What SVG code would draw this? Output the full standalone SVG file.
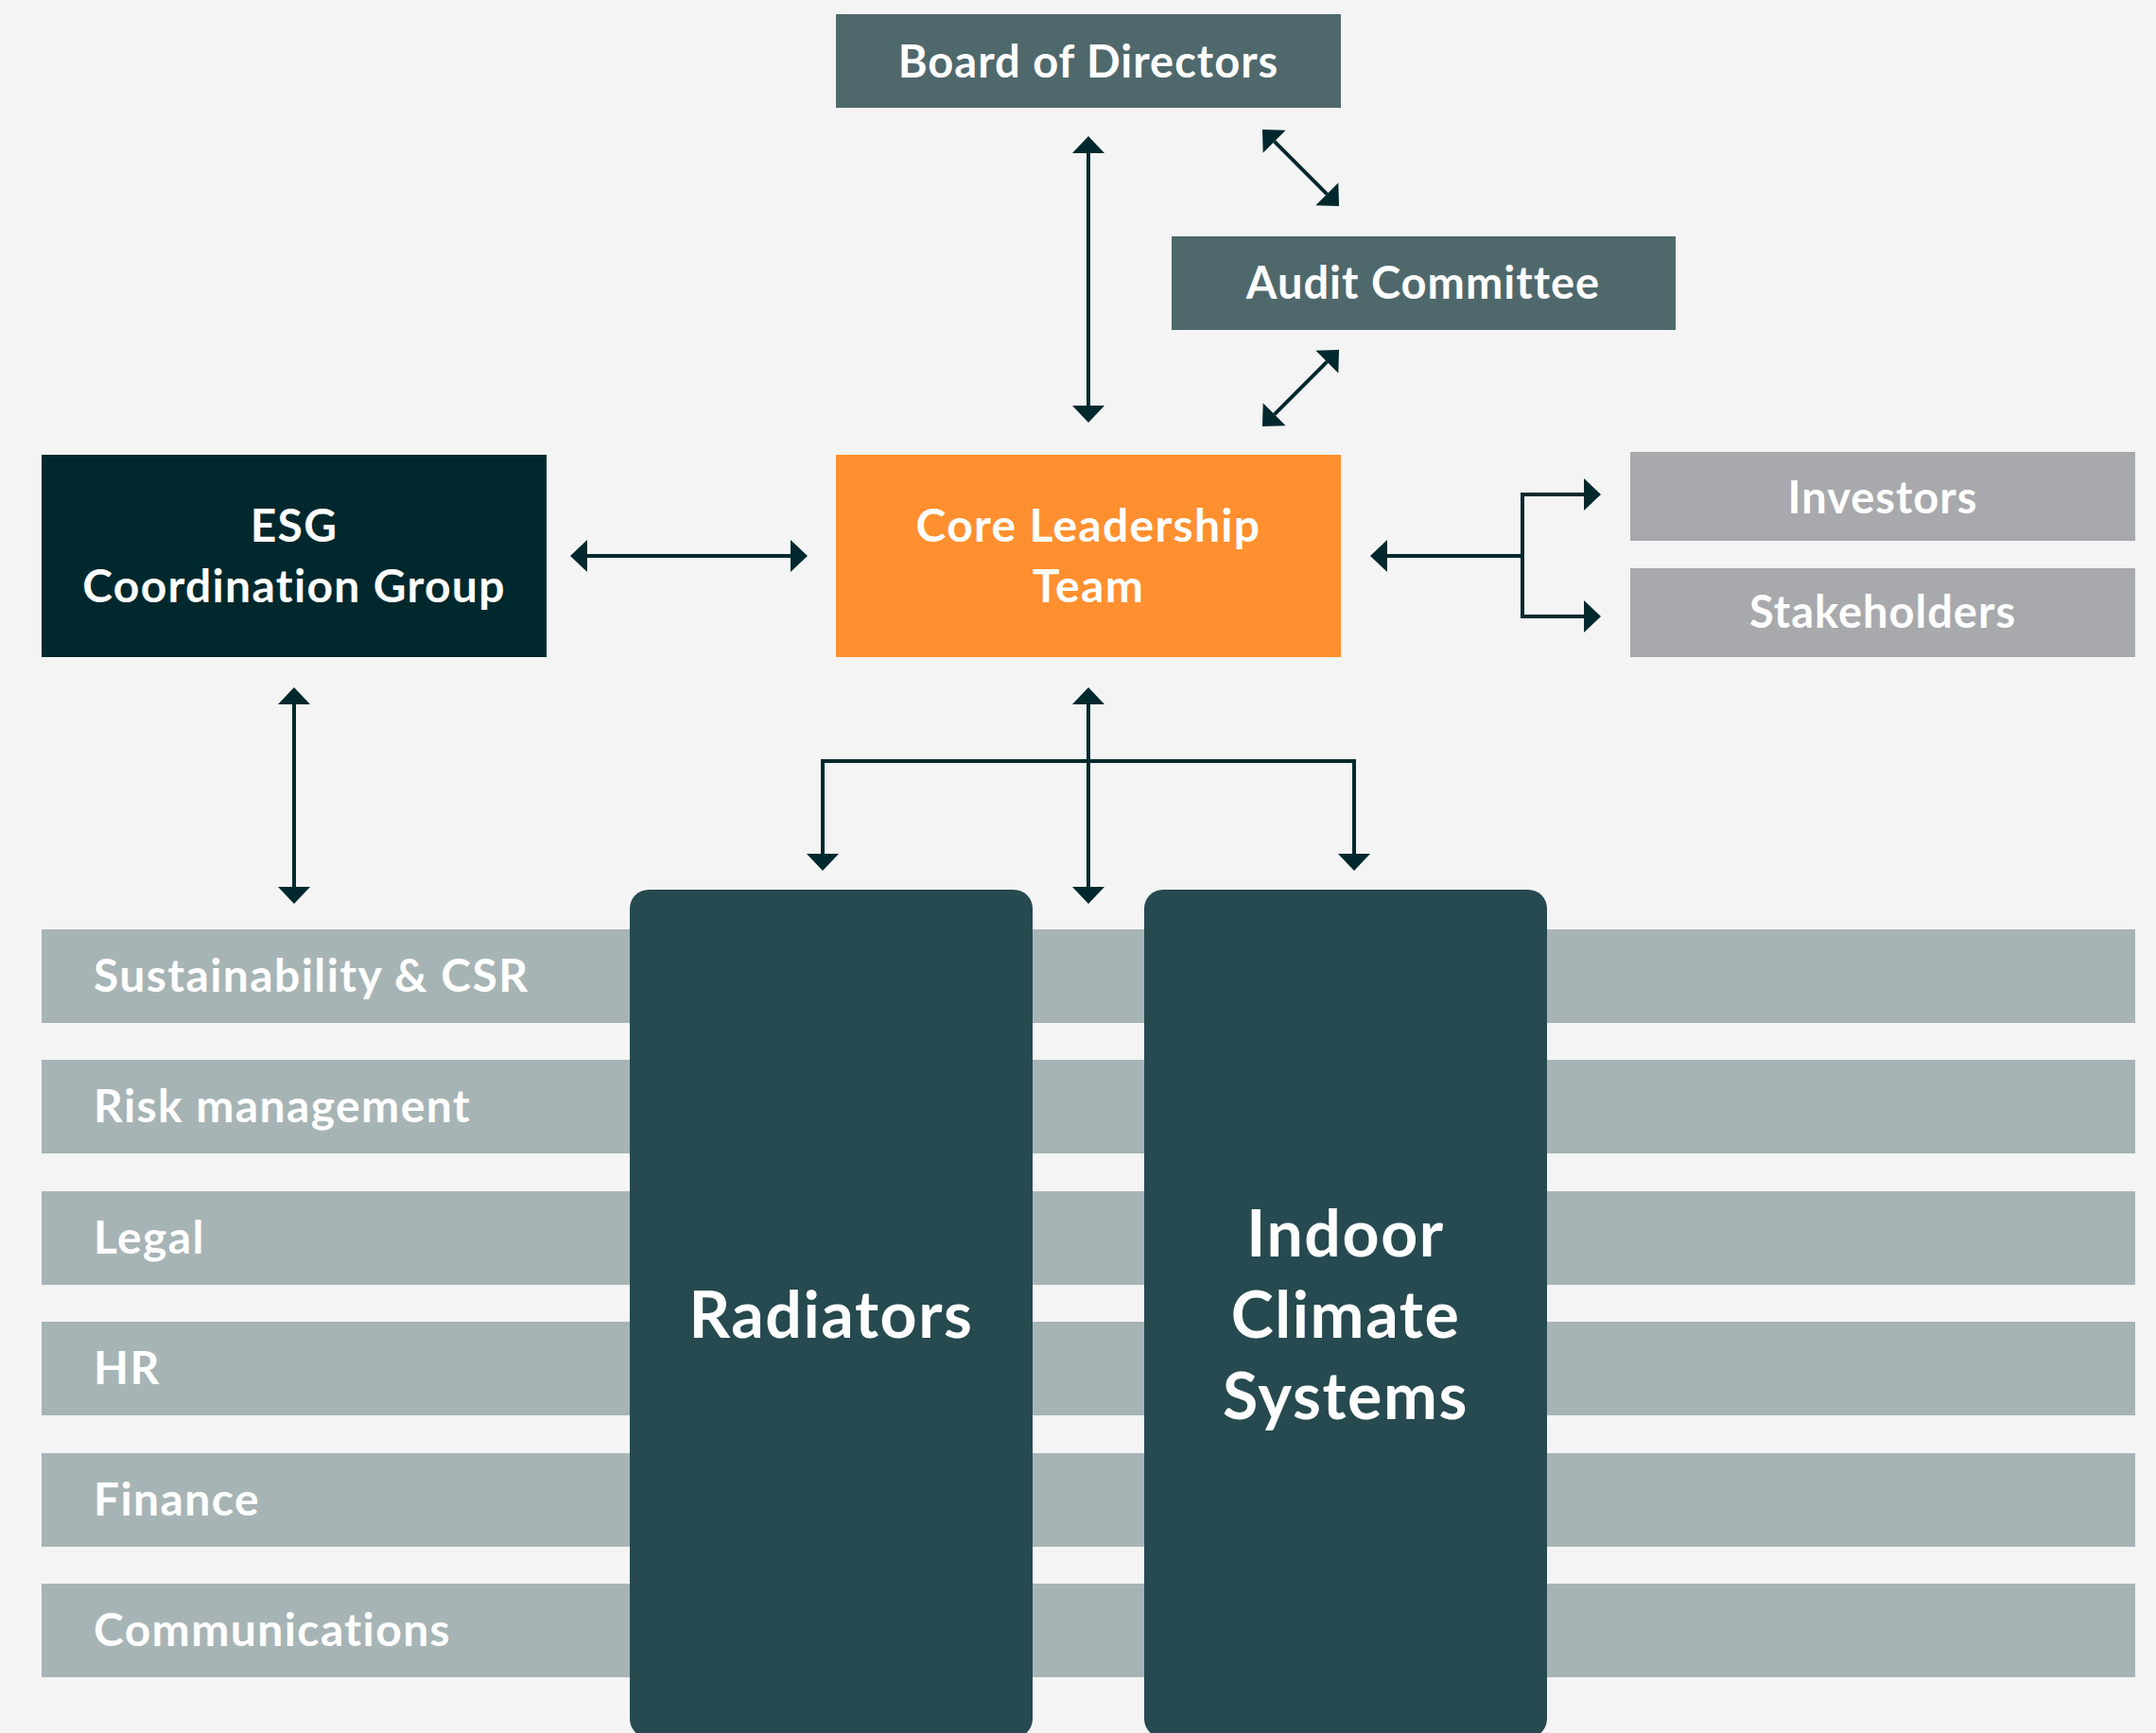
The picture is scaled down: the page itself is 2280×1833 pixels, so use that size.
<svg xmlns="http://www.w3.org/2000/svg" width="2280" height="1833" viewBox="0 0 2280 1833">
  <style>
    .lbl { font-family: Lato, "Noto Sans", "DejaVu Sans", sans-serif; font-weight: 700; fill: #ffffff; }
    .box { font-size: 47px; letter-spacing: 1px; }
    .box2 { font-size: 48px; letter-spacing: 1.3px; }
    .dept { font-size: 48px; letter-spacing: 1.4px; }
    .big { font-size: 68px; letter-spacing: 1.6px; }
    .conn { fill: none; stroke: #01292d; stroke-width: 4; }
    .bar { fill: #a7b4b5; }
    .unit { fill: #264a4f; }
  </style>
  <defs>
    <marker id="head" viewBox="0 0 18 34" refX="0" refY="17" markerWidth="18" markerHeight="34" markerUnits="userSpaceOnUse" orient="auto-start-reverse">
      <path d="M0,0 L18,17 L0,34 Z" fill="#01292d"/>
    </marker>
  </defs>

  <rect x="0" y="0" width="2280" height="1833" fill="#f4f4f4"/>

  <!-- function bars running behind the business units -->
  <g id="departments">
    <g id="dept-sustainability">
      <rect class="bar" x="44" y="983" width="2214" height="99"/>
      <text class="lbl dept" x="99" y="1049">Sustainability &amp; CSR</text>
    </g>
    <g id="dept-risk">
      <rect class="bar" x="44" y="1121" width="2214" height="99"/>
      <text class="lbl dept" x="99" y="1187">Risk management</text>
    </g>
    <g id="dept-legal">
      <rect class="bar" x="44" y="1260" width="2214" height="99"/>
      <text class="lbl dept" x="99" y="1326">Legal</text>
    </g>
    <g id="dept-hr">
      <rect class="bar" x="44" y="1398" width="2214" height="99"/>
      <text class="lbl dept" x="99" y="1464">HR</text>
    </g>
    <g id="dept-finance">
      <rect class="bar" x="44" y="1537" width="2214" height="99"/>
      <text class="lbl dept" x="99" y="1603">Finance</text>
    </g>
    <g id="dept-communications">
      <rect class="bar" x="44" y="1675" width="2214" height="99"/>
      <text class="lbl dept" x="99" y="1741">Communications</text>
    </g>
  </g>

  <g id="board">
    <rect x="884" y="15" width="534" height="99" fill="#4f686c"/>
    <text class="lbl box" x="1151" y="82" text-anchor="middle">Board of Directors</text>
  </g>

  <g id="audit">
    <rect x="1239" y="250" width="533" height="99" fill="#4f686c"/>
    <text class="lbl box" x="1505" y="316" text-anchor="middle">Audit Committee</text>
  </g>

  <g id="esg">
    <rect x="44" y="481" width="534" height="214" fill="#01282d"/>
    <text class="lbl box2" x="311" y="573" text-anchor="middle">ESG</text>
    <text class="lbl box2" x="311" y="637" text-anchor="middle">Coordination Group</text>
  </g>

  <g id="core">
    <rect x="884" y="481" width="534" height="214" fill="#ff8f2f"/>
    <text class="lbl box2" x="1151" y="573" text-anchor="middle">Core Leadership</text>
    <text class="lbl box2" x="1151" y="637" text-anchor="middle">Team</text>
  </g>

  <g id="investors">
    <rect x="1724" y="478" width="534" height="94" fill="#a8a9ad"/>
    <text class="lbl box" x="1991" y="543" text-anchor="middle">Investors</text>
  </g>

  <g id="stakeholders">
    <rect x="1724" y="601" width="534" height="94" fill="#a8a9ad"/>
    <text class="lbl box" x="1991" y="664" text-anchor="middle">Stakeholders</text>
  </g>

  <g id="radiators">
    <rect class="unit" x="666" y="941" width="426" height="897" rx="20" ry="20"/>
    <text class="lbl big" x="879" y="1415" text-anchor="middle">Radiators</text>
  </g>

  <g id="indoor-climate">
    <rect class="unit" x="1210" y="941" width="426" height="897" rx="20" ry="20"/>
    <text class="lbl big" x="1423" y="1329" text-anchor="middle">Indoor</text>
    <text class="lbl big" x="1423" y="1415" text-anchor="middle">Climate</text>
    <text class="lbl big" x="1423" y="1501" text-anchor="middle">Systems</text>
  </g>

  <g id="connectors">
    <!-- board <-> core leadership -->
    <line class="conn" x1="1151" y1="162" x2="1151" y2="429" marker-start="url(#head)" marker-end="url(#head)"/>
    <!-- board <-> audit committee -->
    <line class="conn" x1="1347.7" y1="149.7" x2="1403.3" y2="205.3" marker-start="url(#head)" marker-end="url(#head)"/>
    <!-- audit committee <-> core leadership -->
    <line class="conn" x1="1403.3" y1="382.7" x2="1347.7" y2="438.3" marker-start="url(#head)" marker-end="url(#head)"/>
    <!-- esg <-> core leadership -->
    <line class="conn" x1="621" y1="588" x2="836" y2="588" marker-start="url(#head)" marker-end="url(#head)"/>
    <!-- esg <-> functions -->
    <line class="conn" x1="311" y1="745" x2="311" y2="938" marker-start="url(#head)" marker-end="url(#head)"/>
    <!-- core leadership <-> investors / stakeholders -->
    <line class="conn" x1="1610" y1="588" x2="1467" y2="588" marker-end="url(#head)"/>
    <path class="conn" d="M1675,523 H1610 V652 H1675" marker-start="url(#head)" marker-end="url(#head)"/>
    <!-- core leadership <-> business units and functions -->
    <line class="conn" x1="1151" y1="745" x2="1151" y2="938" marker-start="url(#head)" marker-end="url(#head)"/>
    <path class="conn" d="M870,903 V805 H1432 V903" marker-start="url(#head)" marker-end="url(#head)"/>
  </g>
</svg>
